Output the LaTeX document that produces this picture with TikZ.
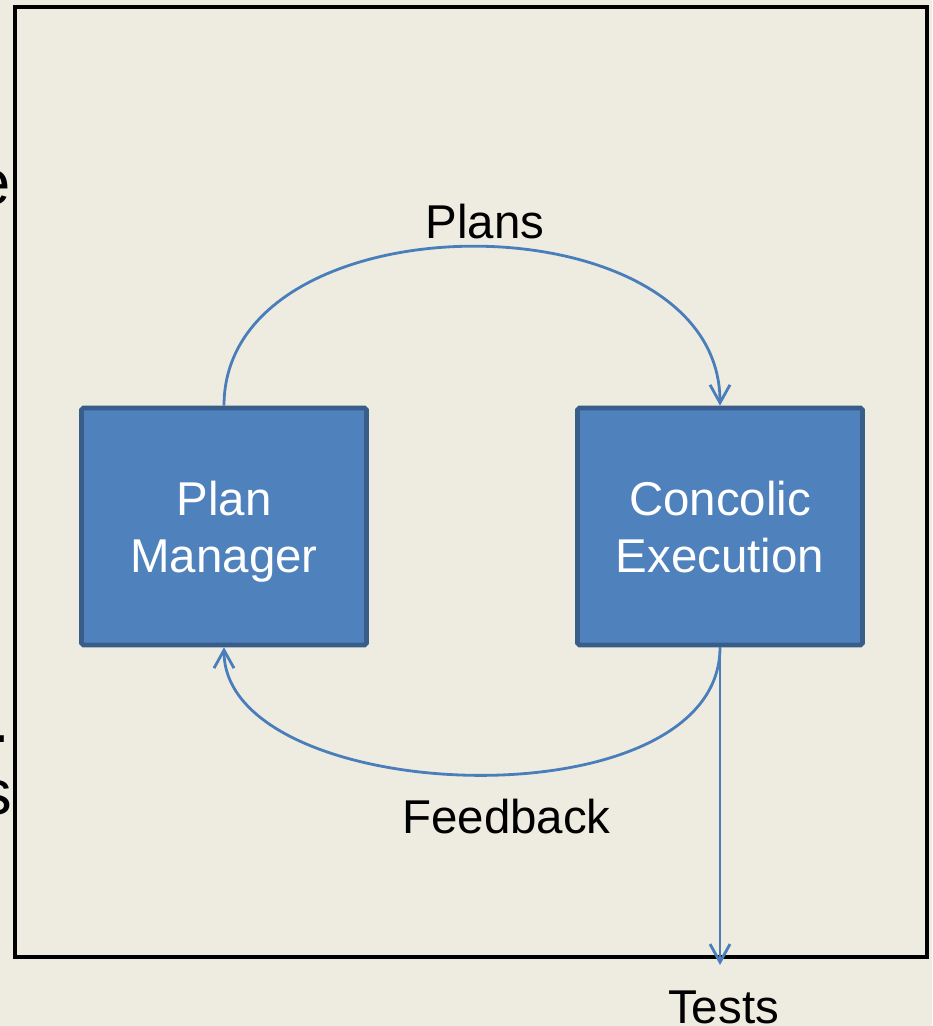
\documentclass[tikz,border=0pt]{standalone}
\usepackage{fontspec}
\setmainfont{Liberation Sans}
\usetikzlibrary{arrows.meta}

\definecolor{paper}{HTML}{EEECE1}
\definecolor{boxblue}{HTML}{4F81BD}
\definecolor{boxedge}{HTML}{385D8A}
\definecolor{flowblue}{HTML}{4A7EBB}

\begin{document}
\begin{tikzpicture}[
  block/.style={draw=boxedge, line width=2.6pt, fill=boxblue, text=white,
    rounded corners=1pt, minimum width=5.7cm, minimum height=4.74cm,
    align=center, text depth=0pt, font=\fontsize{27}{32.3}\selectfont},
  flow/.style={draw=flowblue, line width=1.6pt,
    -{Straight Barb[length=3.6mm,width=4mm]}},
  lbl/.style={font=\fontsize{27}{32}\selectfont, anchor=base},
  cut/.style={font=\fontsize{36}{42}\selectfont, anchor=base east, inner sep=0pt}
]
\useasboundingbox[fill=paper] (0,0) rectangle (18.64,20.52);
% text running in from the left
\node[cut] (cut1) at (0.23,16.42) {e};
\node[cut] (cut2) at (0.20,5.66) {.};
\node[cut] (cut3) at (0.25,4.22) {s};
% frame
\draw[line width=2pt] (0.30,1.38) rectangle (18.54,20.38);
% blocks
\node[block] (pm) at (4.48,9.99) {Plan\\Manager};
\node[block] (ce) at (14.40,9.99) {Concolic\\Execution};
% labels
\node[lbl] (plans) at (9.70,15.74) {Plans};
\node[lbl] (feedback) at (10.13,3.84) {Feedback};
\node[lbl] (tests) at (14.47,0.04) {Tests};
\coordinate (out) at (14.40,1.22);
% arcs between the blocks
\draw[flow] (pm.north) .. controls +(0,4.24) and +(0,4.24) .. (ce.north);
\draw[flow] (ce.south) .. controls +(0,-3.6) and +(0,-3.2) .. (pm.south);
\draw[flow] (ce.south) -- (out);
\end{tikzpicture}
\end{document}
